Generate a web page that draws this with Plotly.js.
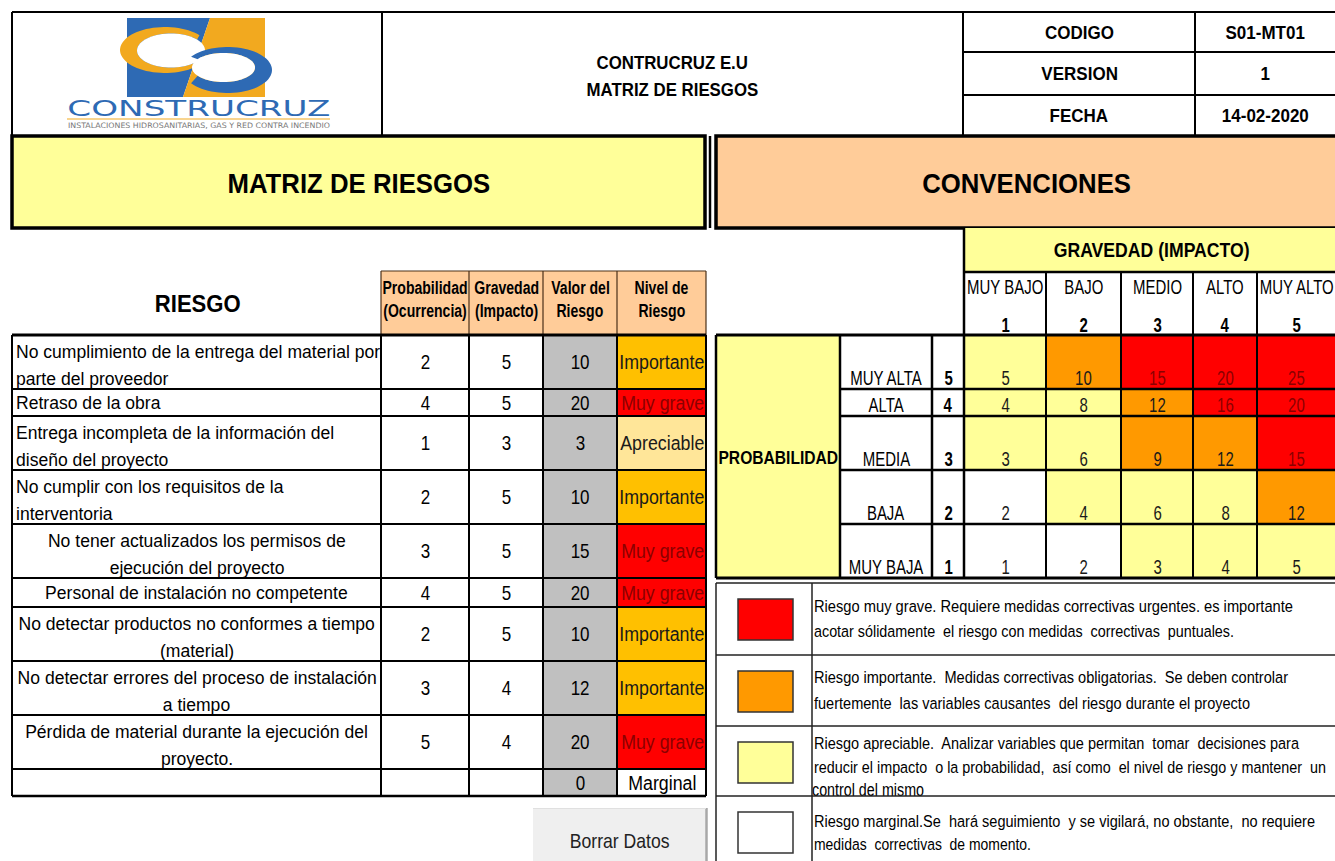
<!DOCTYPE html>
<html><head><meta charset="utf-8">
<script src="https://cdn.plot.ly/plotly-3.0.1.min.js"></script>
<style>html,body{margin:0;padding:0;background:#fff;overflow:hidden}#chart{width:1335px;height:861px}</style>
</head><body><div id="chart"></div>
<script>
// ---------------- DATA ----------------
const companyLines = ["CONTRUCRUZ E.U", "MATRIZ DE RIESGOS"];
const docFields = ["CODIGO", "VERSION", "FECHA"];
const docValues = ["S01-MT01", "1", "14-02-2020"];
const sectionTitles = ["MATRIZ DE RIESGOS", "CONVENCIONES"];
const logoName = "CONSTRUCRUZ";
const logoTagline = "INSTALACIONES HIDROSANITARIAS, GAS Y RED CONTRA INCENDIO";
const riskHeader = "RIESGO";
const tableHeaders = [["Probabilidad", "(Ocurrencia)"], ["Gravedad", "(Impacto)"], ["Valor del", "Riesgo"], ["Nivel de", "Riesgo"]];
const riskLines = [
  ["No cumplimiento de la entrega del material por", "parte del proveedor"],
  ["Retraso de la obra"],
  ["Entrega incompleta de la información del", "diseño del proyecto"],
  ["No cumplir con los requisitos de la", "interventoria"],
  ["No tener actualizados los permisos de", "ejecución del proyecto"],
  ["Personal de instalación no competente"],
  ["No detectar productos no conformes a tiempo", "(material)"],
  ["No detectar errores del proceso de instalación", "a tiempo"],
  ["Pérdida de material durante la ejecución del", "proyecto."],
  []
];
const probability = [2, 4, 1, 2, 3, 4, 2, 3, 5, null];
const severity = [5, 5, 3, 5, 5, 5, 5, 4, 4, null];
const riskValue = [10, 20, 3, 10, 15, 20, 10, 12, 20, 0];
const riskLevel = ["Importante", "Muy grave", "Apreciable", "Importante", "Muy grave", "Muy grave", "Importante", "Importante", "Muy grave", "Marginal"];
const impactTitle = "GRAVEDAD (IMPACTO)";
const impactNames = ["MUY BAJO", "BAJO", "MEDIO", "ALTO", "MUY ALTO"];
const impactScores = [1, 2, 3, 4, 5];
const probTitle = "PROBABILIDAD";
const probNames = ["MUY ALTA", "ALTA", "MEDIA", "BAJA", "MUY BAJA"];
const probScores = [5, 4, 3, 2, 1];
const matrixValues = [
  [5, 10, 15, 20, 25],
  [4, 8, 12, 16, 20],
  [3, 6, 9, 12, 15],
  [2, 4, 6, 8, 12],
  [1, 2, 3, 4, 5]
];
// 0 = marginal, 1 = apreciable, 2 = importante, 3 = muy grave
const matrixLevels = [
  [1, 2, 3, 3, 3],
  [1, 1, 2, 3, 3],
  [1, 1, 2, 2, 3],
  [0, 1, 1, 1, 2],
  [0, 0, 1, 1, 1]
];
const legendLevels = [3, 2, 1, 0];
const legendLines = [
  ["Riesgo muy grave. Requiere medidas correctivas urgentes. es importante", "acotar sólidamente  el riesgo con medidas  correctivas  puntuales."],
  ["Riesgo importante.  Medidas correctivas obligatorias.  Se deben controlar", "fuertemente  las variables causantes  del riesgo durante el proyecto"],
  ["Riesgo apreciable.  Analizar variables que permitan  tomar  decisiones para", "reducir el impacto  o la probabilidad,  así como  el nivel de riesgo y mantener  un", "control del mismo"],
  ["Riesgo marginal.Se  hará seguimiento  y se vigilará, no obstante,  no requiere", "medidas  correctivas  de momento."]
];
const buttonLabel = "Borrar Datos";

// ---------------- STYLE / LAYOUT ----------------
const NARROW = "'Liberation Sans Narrow','Arial Narrow','Liberation Sans',Arial,sans-serif";
const YEL = "#FFFF99", PEACH = "#FFCC99", GRAY = "#C0C0C0";
const matrixColors = ["#FFFFFF", "#FFFF99", "#FF9900", "#FF0000"];
const levelFill = { "Importante": "#FFC000", "Muy grave": "#FF0000", "Apreciable": "#FFE699", "Marginal": "#FFFFFF" };
const levelText = { "Importante": "#1a1a1a", "Muy grave": "#8B0000", "Apreciable": "#1a1a1a", "Marginal": "#000000" };

const tCols = [12, 381, 469, 543, 617, 706];
const tRows = [335, 389, 416, 470, 524, 578, 607, 661, 715, 769, 796];
const riskAlign = ["left", "left", "left", "left", "center", "center", "center", "center", "center", "center"];
const mCols = [964, 1046, 1121, 1193, 1257, 1335];
const mRows = [335, 389, 416, 470, 524, 578];
const lRows = [583, 655, 726, 796, 861];
const legendWidths = [[479, 420], [474, 436], [485, 512, 112], [501, 217]];
const legendOffsets = [[24, 49], [23, 49], [18, 42, 66], [26, 49]];
const LEG_SIZE = 14.5, LEG_VSCALE = 1.2;

const shapes = [], ann = [], annScale = [], annLen = [], annV = [];
function rect(x0, y0, x1, y1, fill, lw, lc, layer) {
  shapes.push({ type: 'rect', xref: 'x', yref: 'y', x0, y0, x1, y1, fillcolor: fill || 'rgba(0,0,0,0)',
    line: { width: lw || 0, color: lc || '#000' }, layer: layer || 'below' });
}
function seg(x0, y0, x1, y1, lw, lc, layer) {
  shapes.push({ type: 'line', xref: 'x', yref: 'y', x0, y0, x1, y1, line: { width: lw, color: lc || '#000' }, layer: layer || 'above' });
}
function poly(pts, fill) {
  const d = 'M' + pts.map(p => p[0].toFixed(2) + ',' + p[1].toFixed(2)).join('L') + 'Z';
  shapes.push({ type: 'path', xref: 'x', yref: 'y', path: d, fillcolor: fill, line: { width: 0 }, layer: 'below' });
}
function arc(cx, cy, rx, ry, a0, a1, n) {
  const p = [];
  for (let i = 0; i <= n; i++) { const a = (a0 + (a1 - a0) * i / n) * Math.PI / 180; p.push([cx + rx * Math.cos(a), cy + ry * Math.sin(a)]); }
  return p;
}
function txt(x, y, t, size, o) {
  o = o || {};
  const a = { xref: 'x', yref: 'y', x, y, text: o.bold ? '<b>' + t + '</b>' : t, showarrow: false,
    xanchor: o.xa || 'center', yanchor: 'middle', align: o.xa || 'center',
    font: { family: o.family || NARROW, size, color: o.color || '#000' } };
  ann.push(a);
  annScale.push(o.s || 1); annLen.push(o.len || 0); annV.push(o.vs || 1);
}
const mid = (a, b) => (a + b) / 2;

// ---------- Logo ----------
const BLUE = "#2E6AB4", ORANGE = "#F2A91F";
poly([[127, 18], [210, 18], [183, 97], [127, 97]], BLUE);
poly([[210, 18], [265, 18], [265, 97], [183, 97]], ORANGE);
poly(arc(165, 50, 45, 23, 40, 320, 60).concat(arc(171, 50.5, 34, 17, 320, 40, 60)), ORANGE);
poly(arc(171, 50.5, 34, 17, 0, 360, 72), "#FFFFFF");
poly(arc(227.5, 70, 44.5, 23, -145, 145, 60).concat(arc(223.5, 67.5, 31.5, 14.5, 145, -145, 60)), BLUE);
poly(arc(223.5, 67.5, 31.5, 14.5, 0, 360, 72), "#FFFFFF");
txt(198.5, 109, logoName, 21, { family: "'DejaVu Sans',sans-serif", color: BLUE, len: 263 });
seg(67, 119, 330, 119, 1, ORANGE);
txt(198.5, 125.5, logoTagline, 7.5, { family: "'DejaVu Sans',sans-serif", color: "#777", len: 262 });

// ---------- Header ----------
txt(672, 62, companyLines[0], 18.5, { bold: true, s: 0.91 });
txt(672, 89, companyLines[1], 18.5, { bold: true, s: 0.91 });
const hRows = [12, 52, 95, 136];
docFields.forEach((f, i) => {
  txt(1079, mid(hRows[i], hRows[i + 1]), f, 18.5, { bold: true, s: 0.92 });
  txt(1265, mid(hRows[i], hRows[i + 1]), docValues[i], 18.5, { bold: true, s: 0.92 });
});
seg(12, 12, 1335, 12, 2);
[12, 382, 963, 1195].forEach(x => seg(x, 12, x, 136, 2));
seg(963, 52, 1335, 52, 2); seg(963, 95, 1335, 95, 2);

// ---------- Band ----------
rect(12, 136, 705, 228, YEL, 3.5);
rect(716, 136, 1337, 228, PEACH, 3.5);
seg(710, 136, 710, 228, 2.5);
txt(359, 183, sectionTitles[0], 28, { bold: true, s: 0.92 });
txt(1026, 183, sectionTitles[1], 28, { bold: true, s: 0.92 });

// ---------- Risk table ----------
txt(197, 304, riskHeader, 23, { bold: true, s: 0.96 });
for (let c = 0; c < 4; c++) {
  rect(tCols[c + 1], 271, tCols[c + 2], 335, PEACH, 0);
  txt(mid(tCols[c + 1], tCols[c + 2]), 287, tableHeaders[c][0], 18.5, { bold: true, s: 0.76 });
  txt(mid(tCols[c + 1], tCols[c + 2]), 310, tableHeaders[c][1], 18.5, { bold: true, s: 0.76 });
}
seg(381, 271, 706, 271, 1.2, "#4a3018");
tCols.slice(1).forEach(x => seg(x, 271, x, 335, 1.2, "#4a3018"));
riskLines.forEach((lines, r) => {
  const y0 = tRows[r], y1 = tRows[r + 1];
  const xa = riskAlign[r];
  const xt = xa === 'left' ? 14 : mid(tCols[0], tCols[1]);
  const o = { xa, s: 0.95 };
  if (lines.length === 1) txt(xt, mid(y0, y1), lines[0], 18.5, o);
  else if (lines.length === 2) { txt(xt, y0 + 16, lines[0], 18.5, o); txt(xt, y0 + 43, lines[1], 18.5, o); }
  if (probability[r] !== null) txt(mid(tCols[1], tCols[2]), mid(y0, y1), String(probability[r]), 20, { s: 0.85 });
  if (severity[r] !== null) txt(mid(tCols[2], tCols[3]), mid(y0, y1), String(severity[r]), 20, { s: 0.85 });
  rect(tCols[3], y0, tCols[4], y1, GRAY, 0);
  txt(mid(tCols[3], tCols[4]), mid(y0, y1), String(riskValue[r]), 20, { s: 0.85 });
  rect(tCols[4], y0, tCols[5], y1, levelFill[riskLevel[r]], 0);
  txt(mid(tCols[4], tCols[5]) + 0.5, mid(y0, y1), riskLevel[r], 20, { s: 0.89, color: levelText[riskLevel[r]] });
});
tRows.forEach((y, i) => seg(12, y, 706, y, (i === 0 ? 3 : (i === tRows.length - 1 ? 2.5 : 2))));
tCols.forEach(x => seg(x, 335, x, 796, 2));

// ---------- Risk matrix ----------
rect(964, 228, 1337, 272, YEL, 0);
txt(1151, 249, impactTitle, 21, { bold: true, s: 0.84 });
impactNames.forEach((n, c) => {
  const xc = mid(mCols[c], mCols[c + 1]);
  txt(xc, 286, n, 20.5, { s: 0.73 });
  txt(xc, 324, String(impactScores[c]), 20.5, { bold: true, s: 0.73 });
});
rect(716, 335, 840, 578, YEL, 0);
txt(778, 457, probTitle, 18.6, { bold: true, s: 0.84 });
probNames.forEach((n, r) => {
  const yb = mRows[r + 1] - 12;
  txt(886, yb, n, 20.5, { s: 0.73 });
  txt(948, yb, String(probScores[r]), 20.5, { bold: true, s: 0.73 });
  matrixValues[r].forEach((v, c) => {
    txt(mid(mCols[c], mCols[c + 1]), yb, String(v), 20.5, { s: 0.73, color: matrixLevels[r][c] === 3 ? '#8B0000' : '#1a1a1a' });
  });
});
seg(964, 228, 964, 578, 2.5);
seg(964, 272, 1337, 272, 2.5);
mCols.slice(1, 5).forEach(x => seg(x, 272, x, 578, 2));
seg(716, 335, 1337, 335, 3);
[716, 840, 932].forEach(x => seg(x, 335, x, 578, 2.5));
mRows.slice(1, 5).forEach(y => seg(840, y, 1337, y, 2.5));
seg(716, 578, 1337, 578, 3);

// ---------- Legend ----------
legendLevels.forEach((lv, i) => {
  const y0 = lRows[i];
  if (i === 3) rect(713, y0 + 1, 1337, 861, '#FFFFFF', 0, '#fff', 'above');
  rect(738, y0 + 16, 793, y0 + 57, matrixColors[lv], 1.5, '#333', i === 3 ? 'above' : 'below');
});
legendLines.forEach((lines, i) => {
  lines.forEach((t, k) => {
    if (i === 2 && k === 2) return; // drawn as a clipped text trace below
    txt(812, lRows[i] + legendOffsets[i][k], t, LEG_SIZE, { xa: 'left', len: legendWidths[i][k], vs: LEG_VSCALE });
  });
});
lRows.slice(0, 4).forEach(y => seg(716, y, 1337, y, 1.5, '#222'));
[716, 812].forEach(x => seg(x, 583, x, 861, 1.5, '#222'));

// ---------- Button ----------
rect(533, 808, 706, 861, '#EFEFEF', 0);
seg(706.5, 808, 706.5, 861, 2.5, '#A8A8A8');
seg(533, 808.5, 706, 808.5, 1, '#E0E0E0');
txt(619.5, 841, buttonLabel, 20, { color: '#222', s: 0.88 });

// ---------- Traces ----------
const cs = [[0, matrixColors[0]], [0.25, matrixColors[0]], [0.25, matrixColors[1]], [0.5, matrixColors[1]],
            [0.5, matrixColors[2]], [0.75, matrixColors[2]], [0.75, matrixColors[3]], [1, matrixColors[3]]];
const traces = [
  { type: 'heatmap', x: mCols, y: mRows, z: matrixLevels, colorscale: cs, zmin: -0.5, zmax: 3.5, showscale: false, hoverinfo: 'skip', xgap: 0, ygap: 0 },
  { type: 'scatter', mode: 'text', x: [812], y: [lRows[2] + legendOffsets[2][2]], text: [legendLines[2][2]], textposition: 'middle right',
    textfont: { family: NARROW, size: 17.5, color: '#000' }, hoverinfo: 'skip', showlegend: false, cliponaxis: false }
];

const layout = {
  width: 1335, height: 861, margin: { l: 0, r: 0, t: 0, b: 0, pad: 0 },
  paper_bgcolor: '#fff', plot_bgcolor: '#fff', showlegend: false,
  xaxis: { range: [0, 1335], visible: false, fixedrange: true },
  yaxis: { range: [861, 0], visible: false, fixedrange: true },
  shapes, annotations: ann
};
Plotly.newPlot('chart', traces, layout, { staticPlot: true, displayModeBar: false }).then(gd => {
  gd.querySelectorAll('.annotation').forEach(g => {
    const i = +g.getAttribute('data-index');
    const el = g.querySelector('.annotation-text');
    if (!el) return;
    if (annLen[i]) {
      el.setAttribute('textLength', annLen[i]); el.setAttribute('lengthAdjust', 'spacingAndGlyphs');
      if (annV[i] !== 1) {
        const y = parseFloat(el.getAttribute('y')) || 0, k = annV[i];
        el.setAttribute('transform', 'translate(0,' + (y * (1 - k)) + ') scale(1,' + k + ')');
      }
    } else if (annScale[i] !== 1) {
      const x = parseFloat(el.getAttribute('x')) || 0, sc = annScale[i];
      el.setAttribute('transform', 'translate(' + (x * (1 - sc)) + ',0) scale(' + sc + ',1)');
    }
  });
  gd.querySelectorAll('.textpoint text').forEach(el => {
    if (el.textContent === legendLines[2][2]) {
      el.setAttribute('textLength', legendWidths[2][2]); el.setAttribute('lengthAdjust', 'spacingAndGlyphs');
    }
  });
});
</script></body></html>
